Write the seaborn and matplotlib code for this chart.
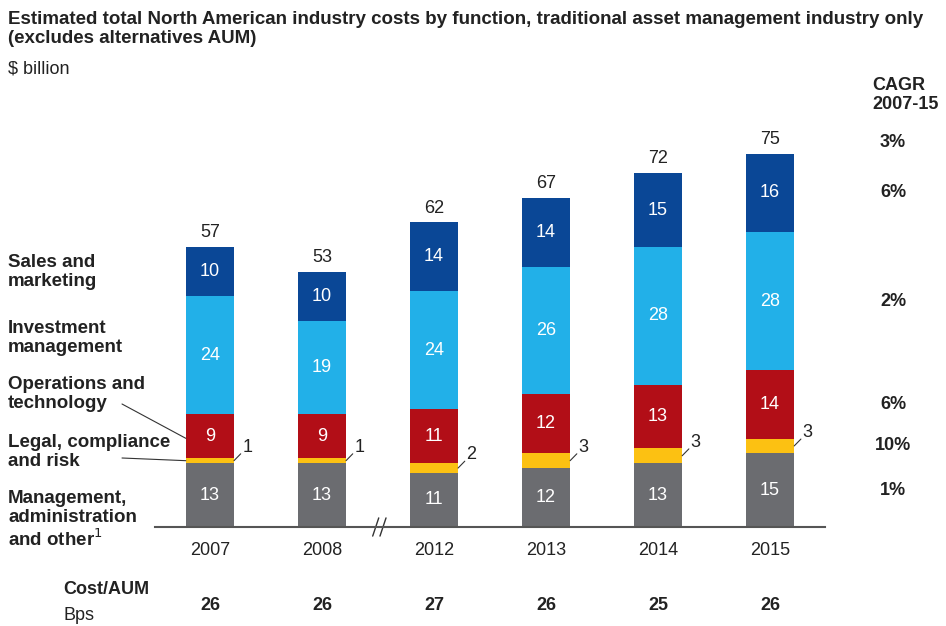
import numpy as np
import pandas as pd
import seaborn as sns
import matplotlib.pyplot as plt
from matplotlib import font_manager
from matplotlib.transforms import blended_transform_factory

years = ["2007", "2008", "2012", "2013", "2014", "2015"]
mgmt = [13, 13, 11, 12, 13, 15]
legal = [1, 1, 2, 3, 3, 3]
ops = [9, 9, 11, 12, 13, 14]
invest = [24, 19, 24, 26, 28, 28]
sales = [10, 10, 14, 14, 15, 16]
totals = [57, 53, 62, 67, 72, 75]
cost_aum = [26, 26, 27, 26, 25, 26]

seg_names = ["Management,\nadministration\nand other$^{1}$", "Legal, compliance\nand risk",
             "Operations and\ntechnology", "Investment\nmanagement", "Sales and\nmarketing"]
cagr = ["1%", "10%", "6%", "2%", "6%"]
cagr_total = "3%"

colors = ["#6b6c70", "#fcc112", "#b20e17", "#22b0e8", "#0a4796"]

sns.set_theme(style="white")
names = {f.name for f in font_manager.fontManager.ttflist}
main_font = "Liberation Sans Narrow" if "Liberation Sans Narrow" in names else "Liberation Sans"
plt.rcParams["font.family"] = [main_font, "DejaVu Sans"]

W, H = 946, 626
fig = plt.figure(figsize=(W / 100, H / 100), dpi=100)
# axes placed in pixel terms: baseline at y=527, 80 units tall
ax = fig.add_axes([155 / W, 1 - 527 / H, 670 / W, 393 / H])

segs = [mgmt, legal, ops, invest, sales]
cum = np.cumsum(np.array(segs), axis=0)
df = pd.DataFrame({"year": years})
bw = 0.43
# draw from the top segment down so each layer covers the one below
for i in range(len(segs) - 1, -1, -1):
    df["h"] = cum[i]
    sns.barplot(data=df, x="year", y="h", color=colors[i], saturation=1,
                width=bw, ax=ax, order=years, linewidth=0, edgecolor="none")

ax.set_xlim(-0.49, 5.49)
ax.set_ylim(0, 80)
ax.set_xlabel("")
ax.set_ylabel("")
ax.set_yticks([])
for s in ["top", "left", "right"]:
    ax.spines[s].set_visible(False)
ax.spines["bottom"].set_color("#555555")
ax.spines["bottom"].set_linewidth(1.5)
ax.tick_params(axis="x", length=0, pad=11, labelsize=13, labelcolor="#222222")

for j in range(len(years)):
    # values inside segments (not the thin yellow one)
    for i in [0, 2, 3, 4]:
        mid = cum[i][j] - segs[i][j] / 2
        ax.text(j, mid, str(segs[i][j]), ha="center", va="center", color="white", fontsize=13)
    # yellow segment label with small leader
    ymid = cum[1][j] - legal[j] / 2
    x0 = j + bw / 2
    ax.plot([x0, x0 + 0.06], [ymid, ymid + 1.4], color="#333333", lw=0.8, clip_on=False)
    ax.text(x0 + 0.075, ymid + 1.0, str(legal[j]), ha="left", va="bottom", fontsize=13, color="#222222")
    # totals
    ax.text(j, cum[4][j] + 1.2, str(totals[j]), ha="center", va="bottom", fontsize=13, color="#222222")

# Cost/AUM row
tr_row = blended_transform_factory(ax.transData, fig.transFigure)
for j, v in enumerate(cost_aum):
    ax.text(j, 1 - 606 / H, str(v), transform=tr_row, ha="center", va="center",
            fontsize=13, fontweight="bold", color="#222222")
fig.text(63 / W, 1 - 590 / H, "Cost/AUM", ha="left", va="center", fontsize=13, fontweight="bold", color="#222222")
fig.text(63 / W, 1 - 616 / H, "Bps", ha="left", va="center", fontsize=13, color="#222222")

# axis break mark
for xb in [1.48, 1.545]:
    ax.plot([xb - 0.027, xb + 0.027], [-1.85, 1.85], color="#333333", lw=1.0, clip_on=False)

# left labels
label_y = [520, 452, 394, 338, 272]
for name, yy in zip(seg_names, label_y):
    fig.text(8 / W, 1 - yy / H, name, ha="left", va="center", fontsize=13.5, fontweight="bold",
             color="#222222", linespacing=1.15)

# leader lines for ops and legal
ax.annotate("", xy=(-bw / 2, mgmt[0] + legal[0] + ops[0] * 0.45), xycoords="data",
            xytext=(122 / W, 1 - 404 / H), textcoords="figure fraction",
            arrowprops=dict(arrowstyle="-", color="#333333", lw=0.8, shrinkA=0, shrinkB=0))
ax.annotate("", xy=(-bw / 2, mgmt[0] + legal[0] / 2), xycoords="data",
            xytext=(122 / W, 1 - 458 / H), textcoords="figure fraction",
            arrowprops=dict(arrowstyle="-", color="#333333", lw=0.8, shrinkA=0, shrinkB=0))

# CAGR column
tr_cagr = blended_transform_factory(fig.transFigure, ax.transData)
for i, c in enumerate(cagr):
    mid = cum[i][-1] - segs[i][-1] / 2
    ax.text(893 / W, mid, c, transform=tr_cagr, ha="center", va="center",
            fontsize=13, fontweight="bold", color="#222222")
ax.text(893 / W, 78.2, cagr_total, transform=tr_cagr, ha="center", va="center",
        fontsize=13, fontweight="bold", color="#222222")
fig.text(872 / W, 1 - 95 / H, "CAGR\n2007-15", ha="left", va="center", fontsize=13,
         fontweight="bold", color="#222222", linespacing=1.15)

# titles
fig.text(8 / W, 1 - 29 / H, "Estimated total North American industry costs by function, traditional asset management industry only\n(excludes alternatives AUM)",
         ha="left", va="center", fontsize=13.5, fontweight="bold", color="#222222", linespacing=1.15)
fig.text(8 / W, 1 - 69 / H, "$ billion", ha="left", va="center", fontsize=13, color="#222222")

fig.savefig("out.png", dpi=100)
